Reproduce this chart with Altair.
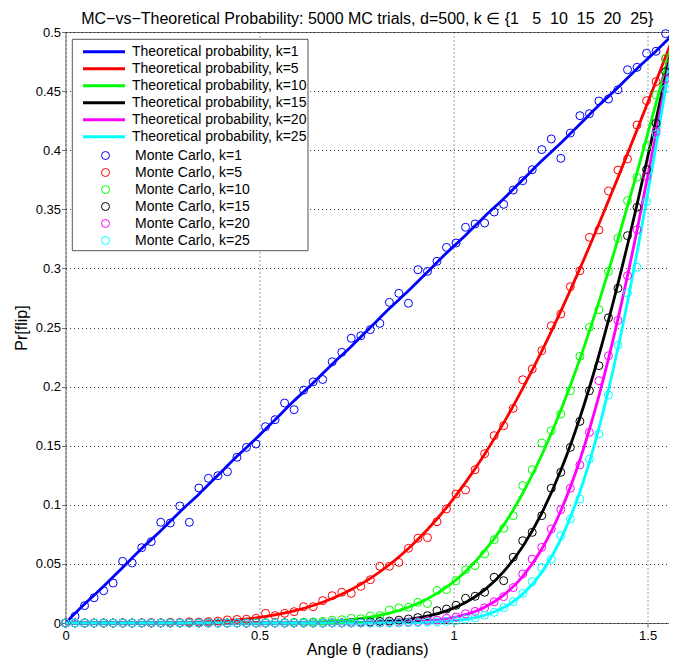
import altair as alt
import pandas as pd

K_VALUES = [1, 5, 10, 15, 20, 25]
COLORS = ["#0000ff", "#ff0000", "#00ff00", "#000000", "#ff00ff", "#00ffff"]

# theta grid of the theoretical curves (radians)
THETA_LINE = [0.0, 0.0491, 0.0982, 0.1473, 0.1963, 0.2454, 0.2945, 0.3436, 0.3927, 0.4418,
              0.4909, 0.5400, 0.5890, 0.6381, 0.6872, 0.7363, 0.7854, 0.8345, 0.8836, 0.9327,
              0.9817, 1.0308, 1.0799, 1.1290, 1.1781, 1.2272, 1.2763, 1.3254, 1.3744, 1.4235,
              1.4726, 1.5217, 1.5708]

TH_K1 = [0.0, 0.016, 0.031, 0.047, 0.063, 0.078, 0.094, 0.109, 0.125, 0.141,
         0.156, 0.172, 0.188, 0.203, 0.219, 0.234, 0.25, 0.266, 0.281, 0.297,
         0.313, 0.328, 0.344, 0.359, 0.375, 0.391, 0.406, 0.422, 0.438, 0.453,
         0.469, 0.484, 0.5]
TH_K5 = [0.0, 0.0, 0.0, 0.00001, 0.00005, 0.00015, 0.00036, 0.00077, 0.00147, 0.0026,
         0.00431, 0.00678, 0.0102, 0.01479, 0.02077, 0.02836, 0.03779, 0.04927, 0.06297, 0.07907,
         0.09769, 0.11892, 0.1428, 0.16932, 0.19843, 0.22998, 0.26385, 0.29979, 0.33754, 0.37679,
         0.4172, 0.4584, 0.5]
TH_K10 = [0.0, 0.0, 0.0, 0.0, 0.0, 0.0, 0.0, 0.0, 0.0, 0.00003,
          0.00007, 0.00018, 0.0004, 0.00083, 0.0016, 0.00292, 0.00506, 0.00839, 0.01335, 0.02048,
          0.03037, 0.04364, 0.06093, 0.08281, 0.10977, 0.14213, 0.18003, 0.22334, 0.27172, 0.32454,
          0.38092, 0.43981, 0.5]
TH_K15 = [0.0, 0.0, 0.0, 0.0, 0.0, 0.0, 0.0, 0.0, 0.0, 0.0,
          0.0, 0.0, 0.0, 0.00005, 0.00014, 0.00034, 0.00075, 0.00158, 0.00312, 0.00581,
          0.0103, 0.01738, 0.02806, 0.04345, 0.06476, 0.09303, 0.12919, 0.17368, 0.22652, 0.28707,
          0.3541, 0.42582, 0.5]
TH_K20 = [0.0, 0.0, 0.0, 0.0, 0.0, 0.0, 0.0, 0.0, 0.0, 0.0,
          0.0, 0.0, 0.0, 0.0, 0.0, 0.0, 0.0001, 0.0003, 0.00076, 0.00172,
          0.00363, 0.00719, 0.01339, 0.02357, 0.0394, 0.06262, 0.09501, 0.13795, 0.19214, 0.25733,
          0.33216, 0.41416, 0.5]
TH_K25 = [0.0, 0.0, 0.0, 0.0, 0.0, 0.0, 0.0, 0.0, 0.0, 0.0,
          0.0, 0.0, 0.0, 0.0, 0.0, 0.0, 0.0, 0.00006, 0.00019, 0.00052,
          0.00131, 0.00304, 0.00653, 0.01305, 0.02442, 0.04286, 0.07094, 0.111, 0.16474, 0.2326,
          0.31335, 0.40399, 0.5]

# theta grid of the Monte Carlo points (radians)
THETA_MC = [0.0, 0.0245, 0.0491, 0.0736, 0.0982, 0.1227, 0.1473, 0.1718, 0.1963, 0.2209,
            0.2454, 0.2700, 0.2945, 0.3191, 0.3436, 0.3682, 0.3927, 0.4172, 0.4418, 0.4663,
            0.4909, 0.5154, 0.5400, 0.5645, 0.5890, 0.6136, 0.6381, 0.6627, 0.6872, 0.7118,
            0.7363, 0.7609, 0.7854, 0.8099, 0.8345, 0.8590, 0.8836, 0.9081, 0.9327, 0.9572,
            0.9817, 1.0063, 1.0308, 1.0554, 1.0799, 1.1045, 1.1290, 1.1536, 1.1781, 1.2026,
            1.2272, 1.2517, 1.2763, 1.3008, 1.3254, 1.3499, 1.3744, 1.3990, 1.4235, 1.4481,
            1.4726, 1.4972, 1.5217, 1.5463]

MC_K1 = [0.0, 0.0057, 0.0147, 0.0214, 0.0273, 0.0338, 0.0522, 0.0508, 0.0637, 0.0688,
         0.0852, 0.0846, 0.0990, 0.0852, 0.1142, 0.1224, 0.1246, 0.1280, 0.1402, 0.1486,
         0.1514, 0.1661, 0.1720, 0.1861, 0.1805, 0.1970, 0.2040, 0.2060, 0.2210, 0.2290,
         0.2409, 0.2430, 0.2482, 0.2535, 0.2713, 0.2789, 0.2705, 0.2989, 0.2975, 0.3060,
         0.3178, 0.3215, 0.3348, 0.3376, 0.3384, 0.3477, 0.3542, 0.3663, 0.3742, 0.3835,
         0.4005, 0.4095, 0.3931, 0.4145, 0.4292, 0.4309, 0.4416, 0.4433, 0.4512, 0.4681,
         0.4701, 0.4820, 0.4837, 0.4986]
MC_K5 = [0.0, 0.0, 0.0, 0.0, 0.0, 0.0, 0.0002, 0.0, 0.0002, 0.0004,
         0.0002, 0.0006, 0.0004, 0.0010, 0.0008, 0.0012, 0.0016, 0.0026, 0.0030, 0.0032,
         0.0040, 0.0082, 0.0062, 0.0082, 0.0096, 0.0138, 0.0138, 0.0189, 0.0231, 0.0260,
         0.0251, 0.0310, 0.0366, 0.0480, 0.0480, 0.0513, 0.0632, 0.0717, 0.0722, 0.0857,
         0.0965, 0.1091, 0.1125, 0.1297, 0.1432, 0.1585, 0.1669, 0.1816, 0.2058, 0.2149,
         0.2304, 0.2515, 0.2614, 0.2845, 0.2980, 0.3263, 0.3325, 0.3655, 0.3832, 0.3926,
         0.4213, 0.4419, 0.4580, 0.4772]
MC_K10 = [0.0, 0.0, 0.0, 0.0, 0.0, 0.0, 0.0, 0.0, 0.0, 0.0,
          0.0, 0.0, 0.0, 0.0, 0.0, 0.0, 0.0, 0.0, 0.0, 0.0,
          0.0002, 0.0002, 0.0002, 0.0004, 0.0006, 0.0008, 0.0010, 0.0014, 0.0024, 0.0028,
          0.0040, 0.0036, 0.0060, 0.0062, 0.0110, 0.0128, 0.0133, 0.0175, 0.0165, 0.0275,
          0.0282, 0.0358, 0.0451, 0.0485, 0.0584, 0.0705, 0.0801, 0.0908, 0.1162, 0.1297,
          0.1523, 0.1627, 0.1768, 0.1965, 0.2256, 0.2502, 0.2651, 0.2975, 0.3255, 0.3573,
          0.3771, 0.4033, 0.4467, 0.4777]
MC_K15 = [0.0, 0.0, 0.0, 0.0, 0.0, 0.0, 0.0, 0.0, 0.0, 0.0,
          0.0, 0.0, 0.0, 0.0, 0.0, 0.0, 0.0, 0.0, 0.0, 0.0,
          0.0, 0.0, 0.0, 0.0, 0.0, 0.0, 0.0, 0.0, 0.0002, 0.0002,
          0.0004, 0.0006, 0.0008, 0.0014, 0.0016, 0.0024, 0.0034, 0.0046, 0.0062, 0.0104,
          0.0118, 0.0150, 0.0209, 0.0226, 0.0260, 0.0387, 0.0358, 0.0556, 0.0696, 0.0767,
          0.0908, 0.1140, 0.1275, 0.1486, 0.1706, 0.1965, 0.2177, 0.2582, 0.2832, 0.3277,
          0.3517, 0.3835, 0.4228, 0.4664]
MC_K20 = [0.0, 0.0, 0.0, 0.0, 0.0, 0.0, 0.0, 0.0, 0.0, 0.0,
          0.0, 0.0, 0.0, 0.0, 0.0, 0.0, 0.0, 0.0, 0.0, 0.0,
          0.0, 0.0, 0.0, 0.0, 0.0, 0.0, 0.0, 0.0, 0.0, 0.0,
          0.0, 0.0, 0.0, 0.0, 0.0002, 0.0006, 0.0008, 0.0012, 0.0020, 0.0024,
          0.0040, 0.0050, 0.0078, 0.0098, 0.0128, 0.0180, 0.0223, 0.0300, 0.0415, 0.0541,
          0.0640, 0.0795, 0.0959, 0.1140, 0.1337, 0.1613, 0.2050, 0.2261, 0.2560, 0.2938,
          0.3327, 0.3779, 0.4160, 0.4602]
MC_K25 = [0.0, 0.0, 0.0, 0.0, 0.0, 0.0, 0.0, 0.0, 0.0, 0.0,
          0.0, 0.0, 0.0, 0.0, 0.0, 0.0, 0.0, 0.0, 0.0, 0.0,
          0.0, 0.0, 0.0, 0.0, 0.0, 0.0, 0.0, 0.0, 0.0, 0.0,
          0.0, 0.0, 0.0, 0.0, 0.0, 0.0, 0.0002, 0.0004, 0.0006, 0.0008,
          0.0014, 0.0020, 0.0034, 0.0044, 0.0066, 0.0090, 0.0130, 0.0180, 0.0250, 0.0350,
          0.0470, 0.0541, 0.0739, 0.0880, 0.1049, 0.1387, 0.1599, 0.1929, 0.2350, 0.2792,
          0.3009, 0.3565, 0.4137, 0.4518]

X_TICKS = [0, 0.5, 1, 1.5]
Y_TICKS = [0, 0.05, 0.1, 0.15, 0.2, 0.25, 0.3, 0.35, 0.4, 0.45, 0.5]

TITLE = ("MC\u2212vs\u2212Theoretical Probability: 5000 MC trials, d=500, k \u2208 "
         "{1\u00a0\u00a0\u00a05\u00a0\u00a010\u00a0\u00a015\u00a0\u00a020\u00a0\u00a025}")

FONT = "Liberation Sans"

theory = [TH_K1, TH_K5, TH_K10, TH_K15, TH_K20, TH_K25]
mc = [MC_K1, MC_K5, MC_K10, MC_K15, MC_K20, MC_K25]
line_labels = [f"Theoretical probability, k={k}" for k in K_VALUES]
mc_labels = [f"Monte Carlo, k={k}" for k in K_VALUES]

x_scale = alt.Scale(domain=[0, 1.555], nice=False, zero=False)
y_scale = alt.Scale(domain=[0, 0.5], nice=False)

x_axis = alt.Axis(values=X_TICKS, format=".1~f", title="Angle \u03b8 (radians)",
                  labelFlush=False, labelOverlap=False)
y_axis = alt.Axis(values=Y_TICKS, format=".2~f", title="Pr[flip]",
                  labelFlush=False, labelOverlap=False)

line_legend = alt.Legend(
    title=None, orient="none", legendX=16, legendY=11.55,
    symbolType="stroke", symbolSize=1764, symbolStrokeWidth=3,
    clipHeight=16.3, rowPadding=0, padding=0, symbolOffset=0,
    labelFont=FONT, labelFontSize=14, labelColor="black",
    labelOffset=5.5, labelLimit=400,
)
mc_legend = alt.Legend(
    title=None, orient="none", legendX=33, legendY=115.35,
    symbolType="circle", symbolSize=64, symbolStrokeWidth=1,
    clipHeight=16.3, rowPadding=0, padding=0, symbolOffset=0,
    labelFont=FONT, labelFontSize=14, labelColor="black",
    labelOffset=22.5, labelLimit=400,
)

layers = []
for k, lab, vals in zip(K_VALUES, line_labels, theory):
    df = pd.DataFrame({"theta": THETA_LINE, "p": vals, "series": lab})
    layers.append(
        alt.Chart(df).mark_line(strokeWidth=2.8, interpolate="monotone").encode(
            x=alt.X("theta:Q", scale=x_scale, axis=x_axis),
            y=alt.Y("p:Q", scale=y_scale, axis=y_axis),
            color=alt.Color("series:N",
                            scale=alt.Scale(domain=line_labels, range=COLORS),
                            legend=line_legend),
        )
    )

mc_frames = []
for k, lab, vals in zip(K_VALUES, mc_labels, mc):
    mc_frames.append(pd.DataFrame({"theta": THETA_MC, "p": vals, "series": lab}))
mc_df = pd.concat(mc_frames, ignore_index=True)

points = alt.Chart(mc_df).mark_point(filled=False, size=64, strokeWidth=1, opacity=1).encode(
    x=alt.X("theta:Q", scale=x_scale, axis=x_axis),
    y=alt.Y("p:Q", scale=y_scale, axis=y_axis),
    stroke=alt.Stroke("series:N",
                      scale=alt.Scale(domain=mc_labels, range=COLORS),
                      legend=mc_legend),
)

box = alt.Chart(pd.DataFrame({"box": [0]})).mark_rect(
    fill="white", stroke="#555555", strokeWidth=1
).encode(
    x=alt.value(6.8), x2=alt.value(242.5), y=alt.value(7.3), y2=alt.value(218.7)
)

chart = alt.layer(*layers, points, box).properties(
    width=603.5,
    height=591,
    autosize=alt.AutoSizeParams(type="none"),
    padding={"left": 57.5, "top": 24, "right": 0, "bottom": 35},
    title=alt.TitleParams(text=TITLE, font=FONT, fontSize=16, fontWeight="normal",
                          color="black", anchor="middle", frame="group", offset=-1),
).configure_view(
    stroke="#6e6e6e", strokeWidth=1
).configure_axis(
    labelFont=FONT, labelFontSize=13, labelColor="black",
    titleFont=FONT, titleFontSize=16, titleColor="black", titleFontWeight="normal",
    grid=True, gridColor="#000000", gridDash=[1, 3], gridOpacity=0.75, gridWidth=1,
    domain=False, ticks=True, tickSize=4, tickColor="#6e6e6e",
).configure_axisX(
    labelPadding=2, titlePadding=-1
).configure_axisY(
    labelPadding=1, titlePadding=6
)

chart.save("out.html", embed_options={"renderer": "svg", "actions": False})
